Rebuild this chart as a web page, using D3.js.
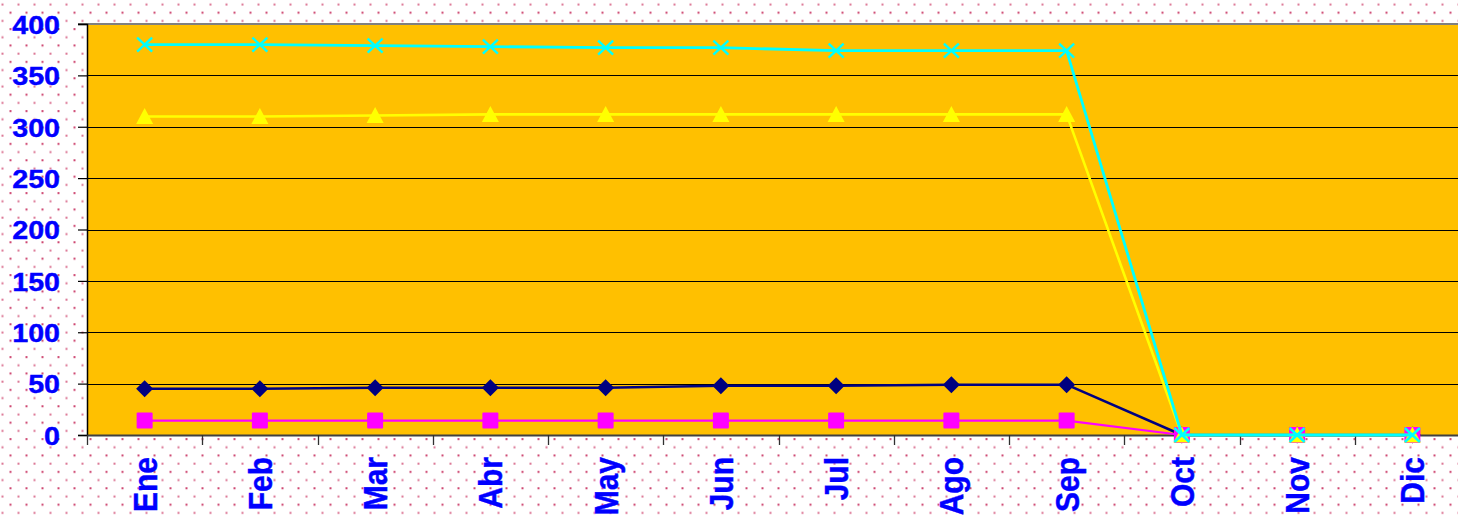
<!DOCTYPE html>
<html><head><meta charset="utf-8">
<script src="https://cdn.jsdelivr.net/npm/d3@7"></script>
<style>html,body{margin:0;padding:0;background:#fff;overflow:hidden}</style>
</head><body>
<script>
const months = ["Ene","Feb","Mar","Abr","May","Jun","Jul","Ago","Sep","Oct","Nov","Dic"];
const navyValues    = [45, 45, 46, 46, 46, 48, 48, 49, 49, 0, 0, 0];
const magentaValues = [14, 14, 14, 14, 14, 14, 14, 14, 14, 0, 0, 0];
const yellowValues  = [310, 310, 311, 312, 312, 312, 312, 312, 312, 0, 0, 0];
const cyanValues    = [380, 380, 379, 378, 377, 377, 374, 374, 374, 0, 0, 0];
const yTicks = [0, 50, 100, 150, 200, 250, 300, 350, 400];

const W = 1458, H = 515;
const L = 87, R = 1470, T = 24, B = 435;

const svg = d3.select("body").append("svg").attr("width", W).attr("height", H);
const defs = svg.append("defs");
const pat = defs.append("pattern").attr("id","dots").attr("width",16).attr("height",16.4)
  .attr("patternUnits","userSpaceOnUse");
pat.append("rect").attr("x",1.5).attr("y",3.5).attr("width",2).attr("height",2).attr("fill","#d04870").attr("opacity",0.75);
pat.append("rect").attr("x",9.5).attr("y",11.7).attr("width",2).attr("height",2).attr("fill","#c83060").attr("opacity",0.9);
svg.append("rect").attr("width",W).attr("height",H).attr("fill","url(#dots)");

const x = d3.scaleBand().domain(months).range([L, R]);
const y = d3.scaleLinear().domain([0, 400]).range([B, T]);

// plot area
svg.append("rect").attr("x", L).attr("y", y(400)).attr("width", R - L).attr("height", y(0) - y(400)).attr("fill", "#FFC000");

// gridlines
svg.append("g").selectAll("line").data(yTicks.filter(v => v > 0 && v < 400)).join("line")
  .attr("x1", L).attr("x2", R).attr("y1", d => Math.round(y(d)) + 0.5).attr("y2", d => Math.round(y(d)) + 0.5)
  .attr("stroke", "#000").attr("stroke-width", 1.2);
// top border
svg.append("line").attr("x1", L - 9).attr("x2", R).attr("y1", y(400)).attr("y2", y(400))
  .attr("stroke", "#808080").attr("stroke-width", 2.2);

// y axis
const yAxis = svg.append("g").attr("transform", `translate(${L},0)`)
  .call(d3.axisLeft(y).tickValues(yTicks).tickSize(9).tickFormat(d3.format("d")));
yAxis.select(".domain").attr("stroke", "#000").attr("stroke-width", 1.5);
yAxis.selectAll(".tick line").attr("stroke", "#000").attr("stroke-width", 1.2);
yAxis.selectAll(".tick text")
  .attr("x", -27 / 1.1).attr("dy", "0.36em")
  .attr("transform", "scale(1.1,1)")
  .attr("fill", "#0000FF").attr("font-family", "'Liberation Sans', Arial, sans-serif")
  .attr("font-weight", "bold").attr("font-size", 26)
  .attr("stroke", "#0000FF").attr("stroke-width", 0.4);

// x axis
const xAxis = svg.append("g").attr("transform", `translate(0,${B})`)
  .call(d3.axisBottom(x).tickSize(0).tickPadding(0));
xAxis.select(".domain").attr("stroke", "#404040").attr("stroke-width", 2);
xAxis.selectAll(".tick text")
  .attr("y", 0).attr("dy", "0.36em")
  .attr("text-anchor", "end")
  .attr("transform", "translate(0,22) scale(1.1,1) rotate(-90)")
  .attr("fill", "#0000FF").attr("font-family", "'Liberation Sans', Arial, sans-serif")
  .attr("font-weight", "bold").attr("font-size", 30)
  .attr("stroke", "#0000FF").attr("stroke-width", 0.4);
// category boundary ticks
const bounds = months.map(m => x(m)).concat([x(months[months.length - 1]) + x.bandwidth()]);
svg.append("g").selectAll("line").data(bounds).join("line")
  .attr("x1", d => Math.round(d) + 0.5).attr("x2", d => Math.round(d) + 0.5)
  .attr("y1", B).attr("y2", B + 10).attr("stroke", "#303030").attr("stroke-width", 1.3);

const cx = m => x(m) + x.bandwidth() / 2;

const series = [
  { name: "navy", values: navyValues, color: "#000080", width: 2.5, marker: "diamond" },
  { name: "magenta", values: magentaValues, color: "#FF00FF", width: 2.2, marker: "square" },
  { name: "yellow", values: yellowValues, color: "#FFFF00", width: 2.6, marker: "triangle" },
  { name: "cyan", values: cyanValues, color: "#00FFFF", width: 2.8, marker: "cross" }
];

const line = d3.line().x((d, i) => cx(months[i])).y(d => y(d));

series.forEach(s => {
  const g = svg.append("g");
  g.append("path").attr("d", line(s.values)).attr("fill", "none")
    .attr("stroke", s.color).attr("stroke-width", s.width).attr("stroke-linejoin", "round");
  const pts = g.selectAll("g.pt").data(s.values).join("g")
    .attr("transform", (d, i) => `translate(${cx(months[i])},${y(d)})`);
  if (s.marker === "diamond") {
    pts.append("path").attr("d", "M0,-8.5L8.5,0L0,8.5L-8.5,0Z").attr("fill", s.color);
  } else if (s.marker === "square") {
    pts.append("rect").attr("x", -8).attr("y", -8).attr("width", 16).attr("height", 16).attr("rx", 1).attr("fill", s.color);
  } else if (s.marker === "triangle") {
    pts.append("path").attr("d", "M0,-8.5L8.5,7.5L-8.5,7.5Z").attr("fill", s.color);
  } else {
    pts.append("path").attr("d", "M-7.5,-7L7.5,7M-7.5,7L7.5,-7").attr("stroke", s.color).attr("stroke-width", 2.4).attr("fill", "none");
  }
});
</script>
</body></html>
